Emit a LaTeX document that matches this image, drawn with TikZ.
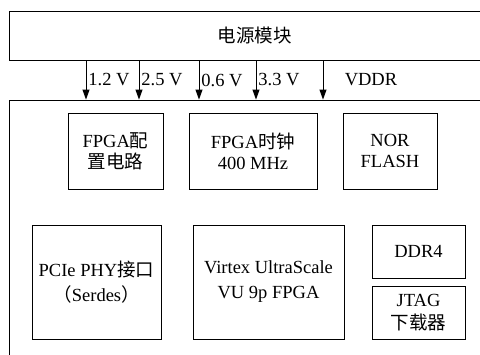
\documentclass[tikz,border=0pt]{standalone}
\usepackage{fontspec}
\setmainfont{Liberation Serif}
\newfontfamily\cjk{Noto Sans CJK SC}
\usepackage{tikz}
\usetikzlibrary{arrows.meta,positioning}

\begin{document}
\begin{tikzpicture}[x=1pt,y=-1pt,>={Triangle[length=10pt,width=7pt]},
  every node/.style={font=\fontsize{18.5}{21}\selectfont},
  blk/.style={draw,line width=0.9pt,inner sep=0pt,align=center}]
 \useasboundingbox (0,0) rectangle (480,354);
 \node[blk,minimum width=491pt,minimum height=49pt] (power) at (254.5,35.5) {\cjk 电源模块};
 \node[blk,minimum width=491pt,minimum height=270pt] (board) at (254.5,235) {};
 \node[blk,minimum width=95pt,minimum height=76pt] (cfg) at (115.5,151) {FPGA{\cjk 配}\\{\cjk 置电路}};
 \node[blk,minimum width=128pt,minimum height=76pt] (clk) at (253,151) {FPGA{\cjk 时钟}\\400 MHz};
 \node[blk,minimum width=94pt,minimum height=76pt] (nor) at (390,151) {NOR\\FLASH};
 \node[blk,minimum width=129pt,minimum height=114pt] (pcie) at (96.5,282) {PCIe PHY{\cjk 接口}\\[4pt]{\cjk （}Serdes{\cjk ）}};
 \node[blk,minimum width=151pt,minimum height=114pt] (fpga) at (268.5,282) {Virtex UltraScale\\[4pt]VU 9p FPGA};
 \node[blk,minimum width=93pt,minimum height=53pt] (ddr) at (418.5,251.5) {DDR4};
 \node[blk,minimum width=93pt,minimum height=53pt] (jtag) at (418.5,312.5) {JTAG\\[2pt]{\cjk 下载器}};
 % supply rails
 \foreach \x/\v in {86/1.2 V,139/2.5 V,199/0.6 V,256/3.3 V}
  \draw[->,line width=0.9pt] (power.south -| \x,0) -- node[right,inner sep=2pt] {\v} (board.north -| \x,0);
 \draw[->,line width=0.9pt] (power.south -| 323,0) -- node[right=18pt] {VDDR} (board.north -| 323,0);
\end{tikzpicture}
\end{document}
